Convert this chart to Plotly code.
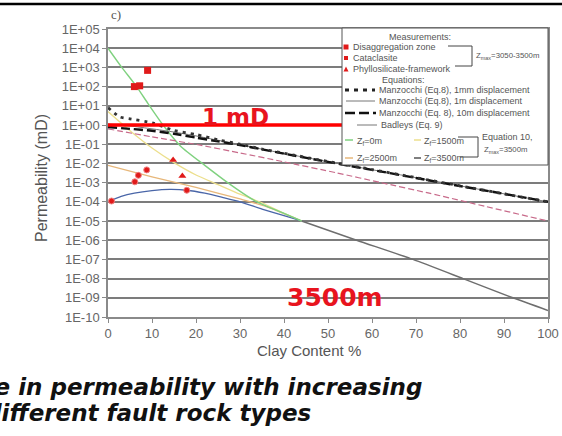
import plotly.graph_objects as go

# ---------------- data ----------------
clay_ticks = [0, 10, 20, 30, 40, 50, 60, 70, 80, 90, 100]
perm_tick_exps = list(range(5, -11, -1))
perm_tick_labels = ["1E+05", "1E+04", "1E+03", "1E+02", "1E+01", "1E+00", "1E-01", "1E-02",
                    "1E-03", "1E-04", "1E-05", "1E-06", "1E-07", "1E-08", "1E-09", "1E-10"]

# Measurements
disagg_clay = [6.0, 7.2, 9.0]
disagg_perm = [100, 110, 700]
catacl_clay = [0.8, 6.1, 6.9, 8.8, 17.9]
catacl_perm = [1.1e-4, 1.1e-3, 2.4e-3, 4.6e-3, 4.0e-4]
phyllo_clay = [14.8, 16.9]
phyllo_perm = [1.5e-2, 2.2e-3]

# Equation 10 (Zmax = 3500 m), different Zf
zf0_clay = [0, 3, 6.5, 9, 12.5, 16.5, 22, 27.5, 33.5, 40, 44]
zf0_perm = [1e4, 1.1e3, 1e2, 14, 1.0, 7.9e-2, 7.9e-3, 8.9e-4, 1.1e-4, 2.5e-5, 1e-5]
zf1500_clay = [0, 5, 10, 15, 20, 25, 30, 35, 40, 44]
zf1500_perm = [5.0, 0.5, 6.3e-2, 1.1e-2, 2.5e-3, 7.9e-4, 2.5e-4, 8.9e-5, 2.5e-5, 1e-5]
zf2500_clay = [0, 10, 20, 30, 36, 44]
zf2500_perm = [7.9e-3, 2.0e-3, 5.6e-4, 1.4e-4, 5.6e-5, 1e-5]
zf3500_clay = [0, 3, 6, 10, 14, 18, 22, 26, 30, 35, 40, 44]
zf3500_perm = [1.0e-4, 1.9e-4, 2.8e-4, 3.8e-4, 4.4e-4, 4.0e-4, 2.8e-4, 1.7e-4, 1.0e-4, 4.2e-5, 1.9e-5, 1e-5]
zf_tail_clay = [44, 56.5, 69.3, 80.7, 92, 100]
zf_tail_perm = [1e-5, 1e-6, 1e-7, 1e-8, 1e-9, 2.2e-10]

# Manzocchi (Eq. 8)
manz1mm_clay = [0, 2.7, 5, 10, 15, 20, 25, 30, 35, 40, 50, 60, 70, 80, 90, 100]
manz1mm_perm = [8.0, 2.6, 2.1, 1.3, 0.52, 0.32, 0.17, 0.10, 5.6e-2, 3.4e-2, 1.26e-2,
                4.8e-3, 1.8e-3, 6.8e-4, 2.6e-4, 1e-4]
manz_clay = [0, 5, 10, 15, 20, 25, 30, 35, 40, 50, 60, 70, 80, 90, 100]
manz1m_perm = [1.12, 0.89, 0.63, 0.43, 0.27, 0.16, 9.5e-2, 5.5e-2, 3.3e-2, 1.23e-2,
               4.7e-3, 1.8e-3, 6.8e-4, 2.6e-4, 1e-4]
manz10m_perm = [0.79, 0.63, 0.50, 0.35, 0.22, 0.14, 8.9e-2, 5.4e-2, 3.2e-2, 1.2e-2,
                4.6e-3, 1.74e-3, 6.6e-4, 2.6e-4, 1e-4]

# Badleys (Eq. 9)
badleys_clay = [0, 10, 21, 30, 40, 52, 62, 73, 86, 100]
badleys_perm = [0.63, 0.24, 8.9e-2, 3.5e-2, 1.2e-2, 3.2e-3, 1e-3, 2.8e-4, 5.6e-5, 1e-5]

# 1 mD reference line
onemd_clay = [0, 54]
onemd_perm = [1, 1]

# ---------------- figure ----------------
W, H = 562, 436
L, R, T, B = 108, 14, 29, 119
PW, PH = W - L - R, H - T - B


def px(x):
    return (x - L) / PW


def py(y):
    return (H - B - y) / PH


fig = go.Figure()


def line(x, y, color, width, dash="solid"):
    fig.add_trace(go.Scatter(x=x, y=y, mode="lines",
                             line=dict(color=color, width=width, dash=dash, shape="spline", smoothing=0.6),
                             hoverinfo="skip"))


line(zf_tail_clay, zf_tail_perm, "#6e6e6e", 1.5)
line(zf2500_clay, zf2500_perm, "#e7b77a", 1.3)
line(zf1500_clay, zf1500_perm, "#ecdf8c", 1.3)
line(zf3500_clay, zf3500_perm, "#4a66a8", 1.3)
line(zf0_clay, zf0_perm, "#7fd17f", 1.4)
line(badleys_clay, badleys_perm, "#c86a8a", 1.2, "6px,3px")
line(manz_clay, manz1m_perm, "#777777", 1.0)
line(manz_clay, manz10m_perm, "#111111", 2.4, "9px,4px")
line(manz1mm_clay, manz1mm_perm, "#333333", 2.8, "3px,5px")
fig.add_trace(go.Scatter(x=onemd_clay, y=onemd_perm, mode="lines",
                         line=dict(color="#ff0000", width=3.5), hoverinfo="skip"))

fig.add_trace(go.Scatter(x=disagg_clay, y=disagg_perm, mode="markers",
                         marker=dict(symbol="square", size=7, color="#e01a1a"), hoverinfo="skip"))
fig.add_trace(go.Scatter(x=catacl_clay, y=catacl_perm, mode="markers",
                         marker=dict(symbol="circle", size=6, color="#e01a1a",
                                     line=dict(color="#f08080", width=1)), hoverinfo="skip"))
fig.add_trace(go.Scatter(x=phyllo_clay, y=phyllo_perm, mode="markers",
                         marker=dict(symbol="triangle-up", size=7, color="#e01a1a"), hoverinfo="skip"))

AX = "#8a8a8a"
TF = dict(family="Liberation Sans", size=13, color="#666")
fig.update_xaxes(range=[0, 100], tickvals=clay_ticks, showgrid=False, zeroline=False, automargin=False,
                 showline=True, linecolor=AX, linewidth=1.5, mirror=True,
                 ticks="outside", ticklen=4, tickcolor=AX, tickfont=TF)
fig.update_yaxes(type="log", range=[-10, 5], tickvals=[10.0 ** e for e in perm_tick_exps],
                 ticktext=perm_tick_labels, showgrid=True, gridcolor="#7c7c7c", gridwidth=1.5,
                 zeroline=False, showline=True, linecolor=AX, linewidth=1.5, mirror=True, automargin=False,
                 ticks="outside", ticklen=4, tickcolor=AX, tickfont=TF)

shapes = []
ann = []

# slide border line at top
shapes.append(dict(type="line", xref="paper", yref="paper", x0=px(0), x1=px(W), y0=py(4), y1=py(4),
                   line=dict(color="black", width=2.5)))

# legend box
shapes.append(dict(type="rect", xref="paper", yref="paper", x0=px(342), x1=px(548), y0=py(165), y1=py(28),
                   fillcolor="white", line=dict(color="#555", width=1), layer="above"))

LF = dict(family="Liberation Sans", size=9, color="#555")
LFS = dict(family="Liberation Sans", size=7.8, color="#555")


def text(x, y, s, anchor="left", font=LF):
    ann.append(dict(xref="paper", yref="paper", x=px(x), y=py(y), text=s, showarrow=False,
                    xanchor=anchor, yanchor="middle", font=font))


def seg(x0, y0, x1, y1, color, width, dash="solid"):
    shapes.append(dict(type="line", xref="paper", yref="paper", x0=px(x0), x1=px(x1), y0=py(y0), y1=py(y1),
                       line=dict(color=color, width=width, dash=dash), layer="above"))


text(420, 37, "Measurements:", "center")
# markers in legend
shapes.append(dict(type="rect", xref="paper", yref="paper", x0=px(343.5), x1=px(348.5), y0=py(49.5), y1=py(44.5),
                   fillcolor="#e01a1a", line=dict(width=0), layer="above"))
shapes.append(dict(type="rect", xref="paper", yref="paper", x0=px(344), x1=px(348), y0=py(60), y1=py(56),
                   fillcolor="#e01a1a", line=dict(width=0), layer="above"))
shapes.append(dict(type="path", xref="paper", yref="paper",
                   path=f"M {px(343.5)} {py(71.5)} L {px(348.5)} {py(71.5)} L {px(346)} {py(66.5)} Z",
                   fillcolor="#e01a1a", line=dict(width=0), layer="above"))
text(351, 47, "Disaggregation zone")
text(351, 58, "Cataclasite")
text(351, 69, "Phyllosilicate-framework")
seg(448, 46, 472, 46, "#444", 1)
seg(472, 46, 472, 66, "#444", 1)
seg(455, 66, 472, 66, "#444", 1)
text(474, 56, "Z<sub>max</sub>=3050-3500m", font=LFS)

text(403, 80, "Equations:", "center")
seg(345, 90, 375, 90, "#222", 3, "4px,5px")
text(377, 90, "Manzocchi (Eq.8), 1mm displacement")
seg(346, 101, 375, 101, "#777", 1)
text(377, 101, "Manzocchi (Eq.8), 1m displacement")
seg(345, 113, 376, 113, "#111", 2.6, "10px,4px")
text(377, 113, "Manzocchi (Eq. 8), 10m displacement")
seg(357, 125, 377, 125, "#777", 1)
text(379, 125, "Badleys (Eq. 9)")

seg(345, 140, 353, 140, "#7fd17f", 1.5)
text(355, 141, "Z<sub>f</sub>=0m")
seg(414, 140, 421, 140, "#ecdf8c", 1.5)
text(422, 141, "Z<sub>f</sub>=1500m")
seg(345, 158, 353, 158, "#e7b77a", 1.5)
text(355, 158, "Z<sub>f</sub>=2500m")
seg(414, 158, 421, 158, "#555", 1.5)
text(422, 158, "Z<sub>f</sub>=3500m")
seg(458, 137, 478, 137, "#444", 1)
seg(478, 137, 478, 157, "#444", 1)
seg(460, 157, 478, 157, "#444", 1)
text(480, 137, "Equation 10,")
text(482, 150, "Z<sub>max</sub>=3500m", font=LFS)

# axis titles
ann.append(dict(xref="paper", yref="paper", x=px(41), y=py(178), text="Permeability (mD)", textangle=-90,
                showarrow=False, xanchor="center", yanchor="middle",
                font=dict(family="Liberation Sans", size=16, color="#555")))
ann.append(dict(xref="paper", yref="paper", x=px(309), y=py(350), text="Clay Content %",
                showarrow=False, xanchor="center", yanchor="middle",
                font=dict(family="Liberation Sans", size=15, color="#555")))

# panel label
ann.append(dict(xref="paper", yref="paper", x=px(116), y=py(15), text="c)", showarrow=False,
                xanchor="center", yanchor="middle",
                font=dict(family="Liberation Serif", size=13, color="#555")))

# red annotations
ann.append(dict(xref="paper", yref="paper", x=px(235), y=py(117), text="<b>1 mD</b>", showarrow=False,
                xanchor="center", yanchor="middle",
                font=dict(family="DejaVu Sans", size=23, color="#e8141e")))
ann.append(dict(xref="paper", yref="paper", x=px(335), y=py(297), text="<b>3500m</b>", showarrow=False,
                xanchor="center", yanchor="middle",
                font=dict(family="DejaVu Sans", size=25, color="#e8141e")))

# slide caption (partly cut off at the left edge)
CF = dict(family="DejaVu Sans", size=23, color="#111")
ann.append(dict(xref="paper", yref="paper", x=px(424), y=py(387),
                text="<b><i>Change in permeability with increasing</i></b>",
                showarrow=False, xanchor="right", yanchor="middle", font=CF))
ann.append(dict(xref="paper", yref="paper", x=px(313), y=py(413),
                text="<b><i>for different fault rock types</i></b>",
                showarrow=False, xanchor="right", yanchor="middle", font=CF))

fig.update_layout(width=W, height=H, margin=dict(l=L, r=R, t=T, b=B, pad=0),
                  paper_bgcolor="white", plot_bgcolor="white", showlegend=False,
                  shapes=shapes, annotations=ann)

fig.write_html("out.html", config={"displayModeBar": False},
               post_script="document.body.style.margin='0';document.body.style.overflow='hidden';")
